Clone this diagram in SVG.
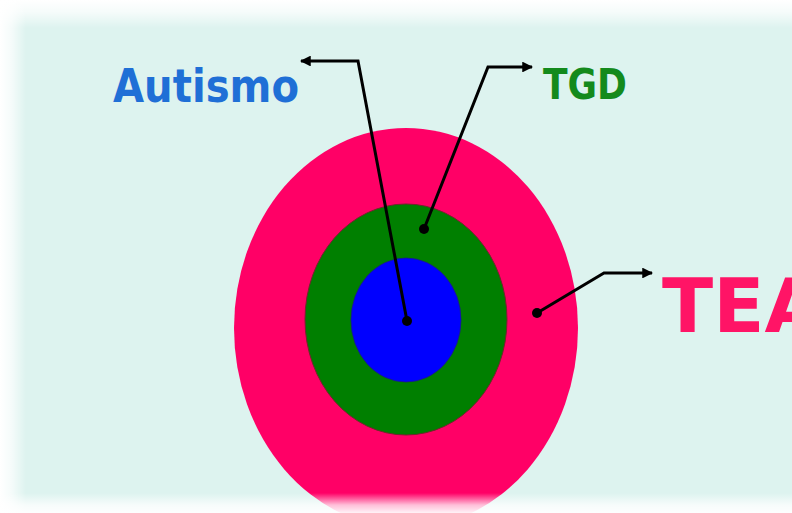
<svg xmlns="http://www.w3.org/2000/svg" width="792" height="513" viewBox="0 0 792 513">
  <defs>
    <style>
      .lbl { font-family: "DejaVu Sans", "Liberation Sans", sans-serif; font-weight: bold; }
      .wire { fill: none; stroke: #000; stroke-width: 3; stroke-linejoin: miter; }
      .dot { fill: #000; }
    </style>
    <marker id="head" viewBox="0 0 10 10" refX="9" refY="5" markerWidth="3.8" markerHeight="3.6" markerUnits="strokeWidth" orient="auto">
      <path d="M0,0 L10,5 L0,10 z" fill="#000"/>
    </marker>
    <linearGradient id="fadeTop" x1="0" y1="0" x2="0" y2="1">
      <stop offset="0" stop-color="#fff" stop-opacity="1"/>
      <stop offset="0.45" stop-color="#fff" stop-opacity="0.7"/>
      <stop offset="1" stop-color="#fff" stop-opacity="0"/>
    </linearGradient>
    <linearGradient id="fadeLeft" x1="0" y1="0" x2="1" y2="0">
      <stop offset="0" stop-color="#fff" stop-opacity="1"/>
      <stop offset="0.45" stop-color="#fff" stop-opacity="0.7"/>
      <stop offset="1" stop-color="#fff" stop-opacity="0"/>
    </linearGradient>
    <linearGradient id="fadeBottom" x1="0" y1="0" x2="0" y2="1">
      <stop offset="0" stop-color="#fff" stop-opacity="0"/>
      <stop offset="0.6" stop-color="#fff" stop-opacity="0.75"/>
      <stop offset="1" stop-color="#fff" stop-opacity="0.95"/>
    </linearGradient>
  </defs>

  <!-- backdrop -->
  <rect x="0" y="0" width="792" height="513" fill="#ddf3ef"/>

  <!-- nested sets -->
  <g id="tea">
    <ellipse cx="406" cy="328" rx="172" ry="200" fill="#ff0066"/>
  </g>
  <g id="tgd">
    <ellipse cx="406" cy="319.5" rx="101" ry="115.5" fill="#007f00" stroke="#6b2a2a" stroke-width="1"/>
  </g>
  <g id="autismo">
    <ellipse cx="406" cy="320" rx="55" ry="62" fill="#0000ff" stroke="#1a1a8a" stroke-width="0.8"/>
  </g>

  <!-- pointers from each set to its label -->
  <g id="connectors">
    <polyline class="wire" points="407,321 358,61 301,61" marker-end="url(#head)"/>
    <polyline class="wire" points="424,229 488,67 532,67" marker-end="url(#head)"/>
    <polyline class="wire" points="537,313 604,273 652,273" marker-end="url(#head)"/>
    <circle class="dot" cx="407" cy="321" r="5"/>
    <circle class="dot" cx="424" cy="229" r="5"/>
    <circle class="dot" cx="537" cy="313" r="5"/>
  </g>

  <!-- labels -->
  <g id="label-autismo">
    <text class="lbl" x="113" y="102" font-size="46" fill="#1f6fd6" textLength="186" lengthAdjust="spacingAndGlyphs">Autismo</text>
  </g>
  <g id="label-tgd">
    <text class="lbl" x="543" y="99" font-size="42" fill="#148a1c" textLength="84" lengthAdjust="spacingAndGlyphs">TGD</text>
  </g>
  <g id="label-tea">
    <text class="lbl" x="662" y="332" font-size="75" fill="#ff1466">TEA</text>
  </g>

  <!-- soft white border of the slide -->
  <rect x="0" y="0" width="792" height="28" fill="url(#fadeTop)"/>
  <rect x="0" y="0" width="26" height="513" fill="url(#fadeLeft)"/>
  <rect x="0" y="493" width="792" height="20" fill="url(#fadeBottom)"/>
</svg>
